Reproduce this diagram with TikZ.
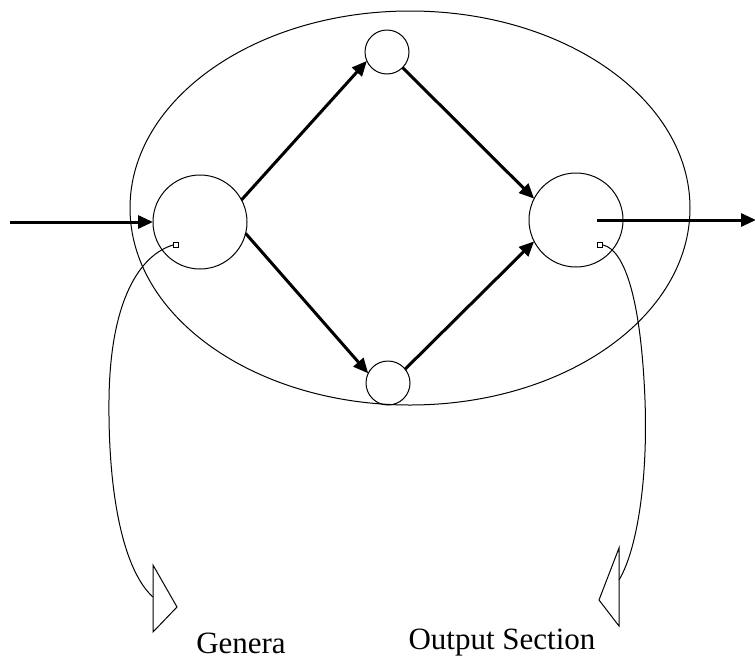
\documentclass[tikz,border=0pt]{standalone}
\usepackage{fontspec}
\setmainfont{Liberation Serif}
\usetikzlibrary{arrows.meta,shapes.geometric}

\begin{document}
\begin{tikzpicture}[
    x=1pt, y=-1pt,
    thin line/.style={line width=1pt},
    unit/.style={draw, circle, thin line, inner sep=0pt, outer sep=0pt},
    bigunit/.style={unit, minimum size=94pt},
    smallunit/.style={unit, minimum size=44pt},
    ring/.style={draw, ellipse, thin line, inner sep=0pt, outer sep=0pt,
        minimum width=560pt, minimum height=394pt},
    arrow/.style={-{Triangle[length=15pt,width=13pt]}, line width=3pt},
    marker/.style={draw, rectangle, thin line, inner sep=0pt, minimum size=5pt},
    label/.style={font=\fontsize{31}{36}\selectfont, inner sep=0pt}
]
\useasboundingbox (0,0) rectangle (755,662);

% Anello esterno
\node[ring] (ring) at (410,208) {};

% Unita: ingresso, due vie, uscita
\node[bigunit] (inunit) at (200,222) {};
\node[smallunit] (topunit) at (387,52) {};
\node[smallunit] (botunit) at (388,383) {};
\node[bigunit] (outunit) at (576,220) {};

% Estremi liberi
\coordinate (src) at (10,222);
\coordinate (srcout) at (597,220);
\coordinate (dst) at (755,220);

% === FRECCE ===
\draw[arrow] (src) -- (inunit.west);
\draw[arrow] (inunit.28) -- (topunit.204);
\draw[arrow] (inunit.-14) -- (botunit.154);
\draw[arrow] (topunit.-45) -- (outunit.153);
\draw[arrow] (botunit.39) -- (outunit.207);
\draw[arrow, shorten >=-1pt] (srcout) -- (dst);

% Ritorni con triangoli vuoti
\node[marker] (lmark) at (176,245) {};
\node[marker] (rmark) at (600,245) {};

\coordinate (ltipA) at (153,565);
\coordinate (ltipB) at (177,607);
\coordinate (ltipC) at (153,632);
\coordinate (lend) at (153,597);
\draw[thin line] (ltipA) -- (ltipB) -- (ltipC) -- cycle;
\draw[thin line] (lmark.west) .. controls (140,255) and (110,300) .. (109,400)
    .. controls (108,500) and (125,572) .. (lend);

\coordinate (rtipA) at (619,548);
\coordinate (rtipB) at (599,600);
\coordinate (rtipC) at (619,626);
\coordinate (rend) at (619,580);
\draw[thin line] (rtipA) -- (rtipB) -- (rtipC) -- cycle;
\draw[thin line] (rmark.east) .. controls (625,250) and (641,300) .. (645,400)
    .. controls (648,480) and (637,550) .. (rend);

% Etichette
\node[label] (genera) at (241,643) {Genera};
\node[label] (output) at (502,643) {Output Section};

\end{tikzpicture}
\end{document}
